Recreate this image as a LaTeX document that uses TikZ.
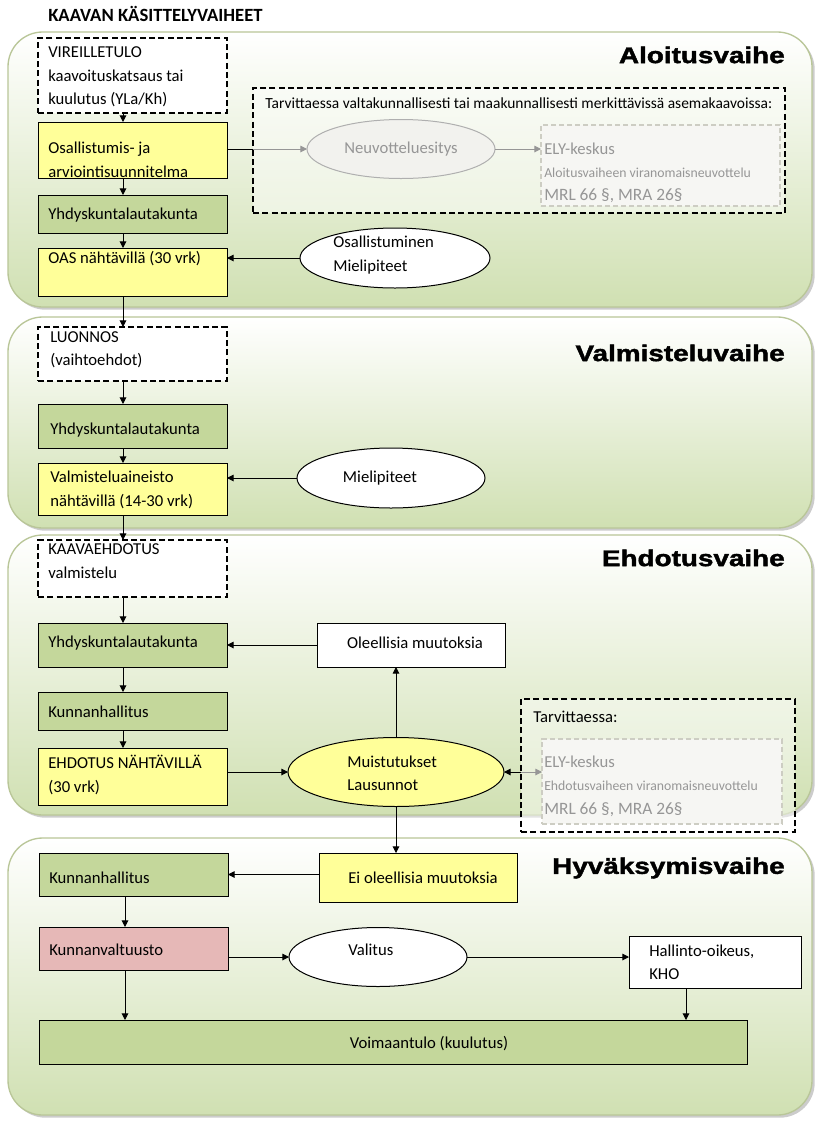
\documentclass[tikz,border=0pt]{standalone}
\usepackage{fontspec}
\usepackage{graphicx}
\setmainfont{Carlito}
\newfontfamily\headfont{Liberation Sans}[UprightFont=* Bold, FakeBold=1.6]
\usetikzlibrary{arrows.meta,shadows,shapes.geometric,calc}

\definecolor{yel}{RGB}{255,255,153}
\definecolor{grn}{RGB}{196,215,155}
\definecolor{pnk}{RGB}{230,184,183}
\definecolor{pbot}{RGB}{208,224,178}
\definecolor{pline}{RGB}{185,198,152}
\definecolor{gtxt}{RGB}{150,150,150}
\definecolor{gline}{RGB}{150,150,150}
\definecolor{elyb}{RGB}{205,205,195}
\definecolor{elyf}{RGB}{246,246,243}
\definecolor{neuvf}{RGB}{242,242,238}
\definecolor{neuvb}{RGB}{175,175,175}

\newcommand\bx[6]{\node[#1, anchor=north west, inner sep=0pt, outer sep=0pt, minimum width={(#5-#3)*0.75pt}, minimum height={(#6-#4)*0.75pt}] (#2) at (#3,#4) {};}
\newcommand\el[6]{\node[#1, ellipse, inner sep=0pt, outer sep=0pt, minimum width={#5*1.5pt}, minimum height={#6*1.5pt}] (#2) at (#3,#4) {};}

\tikzset{
  panel/.style={draw=pline, line width=1pt, rounded corners=26pt, top color=white, bottom color=pbot,
    drop shadow={shadow xshift=2pt, shadow yshift=-2pt, opacity=0.4}},
  solidbox/.style={draw=black, line width=0.75pt},
  dbox/.style={draw=black, line width=1.5pt, dash pattern=on 4.5pt off 2.5pt},
  elybox/.style={draw=elyb, line width=1.1pt, dash pattern=on 4pt off 2pt, fill=elyf},
  txt/.style={inner sep=0pt, font=\fontsize{12.5}{17.6}\selectfont, align=left},
  gtx/.style={txt, text=gtxt},
  mrl/.style={inner sep=0pt, text=gtxt, font=\fontsize{13}{15}\selectfont},
  smalltx/.style={inner sep=0pt, text=gtxt, font=\fontsize{10.3}{12}\selectfont},
  head/.style={inner sep=0pt, anchor=east, font=\headfont\fontsize{17}{20}\selectfont},
  arr/.style={-{Triangle[length=5pt,width=5pt]}, line width=0.75pt},
  garrow/.style={-{Triangle[length=5pt,width=5pt]}, line width=0.75pt, draw=gline, color=gline},
}

\begin{document}
\begin{tikzpicture}[x=0.75pt, y=-0.75pt]
\useasboundingbox (0,0) rectangle (820,1122);
\fill[white] (0,0) rectangle (820,1122);

% panels
\bx{panel}{p1}{8}{32}{812}{307}
\bx{panel}{p2}{8}{317}{812}{528}
\bx{panel}{p3}{8}{535}{812}{815}
\bx{panel}{p4}{8}{838}{812}{1115}

\node[inner sep=0pt, anchor=west, font=\bfseries\fontsize{14}{16}\selectfont] (title) at (48,14) {KAAVAN KÄSITTELYVAIHEET};

% column coordinates
\coordinate (c1) at (123,0);
\coordinate (c4) at (125,0);
\coordinate (c5) at (686,0);

% ---------- Aloitusvaihe
\node[head] (h1) at (785,55) {\scalebox{1.23}[1]{Aloitusvaihe}};
\bx{dbox, fill=white}{vire}{38}{38}{227}{113}
\bx{solidbox, fill=yel}{osal}{38}{122}{227}{178}
\bx{solidbox, fill=grn}{yk1}{38}{195}{227}{233}
\bx{solidbox, fill=yel}{oas}{38}{248}{227}{296}
\bx{dbox, fill=white, fill opacity=0.45}{tarv1}{253}{88}{785}{213}
\bx{elybox}{ely1}{541}{125}{780}{206}
\el{draw=neuvb, fill=neuvf, line width=0.75pt}{neuv}{401}{149}{94}{29.5}
\el{draw=black, fill=white, line width=0.75pt}{osmi}{395}{258}{95}{30}

\node[txt, anchor=west] (vire-t) at (48,77) {VIREILLETULO\\kaavoituskatsaus tai\\kuulutus (YLa/Kh)};
\node[txt, anchor=west] (osal-t) at (48,160) {Osallistumis- ja\\arviointisuunnitelma};
\node[txt, anchor=west] (yk1-t) at (48,215) {Yhdyskuntalautakunta};
\node[txt, anchor=west] (oas-t) at (48,259) {OAS nähtävillä (30 vrk)};
\node[inner sep=0pt, anchor=west, font=\fontsize{11.6}{13}\selectfont] (tarv1-t) at (265,103) {Tarvittaessa valtakunnallisesti tai maakunnallisesti merkittävissä asemakaavoissa:};
\node[gtx] (neuv-t) at (401,149) {Neuvotteluesitys};
\node[gtx, anchor=west] (ely1-a) at (544,149) {ELY-keskus};
\node[smalltx, anchor=west] (ely1-b) at (544,173) {Aloitusvaiheen viranomaisneuvottelu};
\node[mrl, anchor=west] (ely1-c) at (544,196) {MRL 66 §, MRA 26§};
\node[txt, anchor=west] (osmi-t) at (333,255) {Osallistuminen\\Mielipiteet};

\draw[arr] (vire.south -| c1) -- (osal.north -| c1);
\draw[arr] (osal.south -| c1) -- (yk1.north -| c1);
\draw[arr] (yk1.south -| c1) -- (oas.north -| c1);
\draw[line width=0.75pt] (osal.east |- neuv.west) -- (tarv1.west |- neuv.west);
\draw[garrow] (tarv1.west |- neuv.west) -- (neuv.west);
\draw[garrow] (neuv.east) -- (neuv.east -| ely1.west);
\draw[arr] (osmi.west) -- (osmi.west -| oas.east);

% ---------- Valmisteluvaihe
\node[head] (h2) at (785,353) {\scalebox{1.23}[1]{Valmisteluvaihe}};
\bx{dbox, fill=white}{luon}{38}{327}{227}{381}
\bx{solidbox, fill=grn}{yk2}{38}{404}{227}{448}
\bx{solidbox, fill=yel}{valm}{38}{463}{227}{515}
\el{draw=black, fill=white, line width=0.75pt}{miel}{391}{478}{94}{30}

\node[txt, anchor=west] (luon-t) at (50,350) {LUONNOS\\(vaihtoehdot)};
\node[txt, anchor=west] (yk2-t) at (50,430) {Yhdyskuntalautakunta};
\node[txt, anchor=west] (valm-t) at (50,490) {Valmisteluaineisto\\nähtävillä (14-30 vrk)};
\node[txt] (miel-t) at (380,478) {Mielipiteet};

\draw[arr] (oas.south -| c1) -- (luon.north -| c1);
\draw[arr] (luon.south -| c1) -- (yk2.north -| c1);
\draw[arr] (yk2.south -| c1) -- (valm.north -| c1);
\draw[arr] (miel.west) -- (miel.west -| valm.east);

% ---------- Ehdotusvaihe
\node[head] (h3) at (785,558) {\scalebox{1.23}[1]{Ehdotusvaihe}};
\bx{dbox, fill=white}{kaava}{38}{540}{227}{597}
\bx{solidbox, fill=grn}{yk3}{38}{623}{227}{667}
\bx{solidbox, fill=grn}{kh3}{38}{692}{227}{730}
\bx{solidbox, fill=yel}{ehd}{38}{748}{227}{805}
\bx{solidbox, fill=white}{oleel}{317}{623}{505}{667}
\el{draw=black, fill=yel, line width=0.75pt}{muist}{396}{772}{108}{34.5}
\bx{dbox, fill=white, fill opacity=0.45}{tarv2}{521}{699}{795}{832}
\bx{elybox}{ely2}{542}{739}{782}{824}

\node[txt, anchor=west] (kaava-t) at (48,561) {KAAVAEHDOTUS\\valmistelu};
\node[txt, anchor=west] (yk3-t) at (48,643) {Yhdyskuntalautakunta};
\node[txt, anchor=west] (kh3-t) at (48,712) {Kunnanhallitus};
\node[txt, anchor=west] (ehd-t) at (48,775) {EHDOTUS NÄHTÄVILLÄ\\(30 vrk)};
\node[txt] (oleel-t) at (415,643) {Oleellisia muutoksia};
\node[txt, anchor=west] (muist-t) at (347,773) {Muistutukset\\Lausunnot};
\node[txt, anchor=west] (tarv2-t) at (533,717) {Tarvittaessa:};
\node[gtx, anchor=west] (ely2-a) at (544,762) {ELY-keskus};
\node[smalltx, anchor=west] (ely2-b) at (544,786) {Ehdotusvaiheen viranomaisneuvottelu};
\node[mrl, anchor=west] (ely2-c) at (544,810) {MRL 66 §, MRA 26§};

\draw[arr] (valm.south -| c1) -- (kaava.north -| c1);
\draw[arr] (kaava.south -| c1) -- (yk3.north -| c1);
\draw[arr] (yk3.south -| c1) -- (kh3.north -| c1);
\draw[arr] (kh3.south -| c1) -- (ehd.north -| c1);
\draw[arr] (ehd.east |- muist.west) -- (muist.west);
\draw[arr] (muist.north) -- (muist.north |- oleel.south);
\draw[arr] (oleel.west) -- (oleel.west -| yk3.east);
\draw[arr] (tarv2.west |- muist.east) -- (muist.east);
\draw[garrow] (tarv2.west |- muist.east) -- (ely2.west |- muist.east);

% ---------- Hyvaksymisvaihe
\node[head] (h4) at (785,868) {\scalebox{1.23}[1]{Hyväksymisvaihe}};
\bx{solidbox, fill=grn}{kh4}{39}{853}{228}{896}
\bx{solidbox, fill=yel}{ei}{319}{853}{517}{902}
\bx{solidbox, fill=pnk}{kv}{39}{927}{228}{970}
\el{draw=black, fill=white, line width=0.75pt}{val}{378}{957}{89}{29.5}
\bx{solidbox, fill=white}{ho}{629}{936}{801}{988}
\bx{solidbox, fill=grn}{voim}{39}{1020}{747}{1064}

\node[txt, anchor=west] (kh4-t) at (49,878) {Kunnanhallitus};
\node[txt] (ei-t) at (423,878) {Ei oleellisia muutoksia};
\node[txt, anchor=west] (kv-t) at (49,950) {Kunnanvaltuusto};
\node[txt, anchor=west] (val-t) at (348,950) {Valitus};
\node[txt, anchor=west] (ho-t) at (649,962) {Hallinto-oikeus,\\KHO};
\node[txt] (voim-t) at (429,1044) {Voimaantulo (kuulutus)};

\draw[arr] (muist.south) -- (muist.south |- ei.north);
\draw[arr] (ei.west |- kh4.east) -- (kh4.east);
\draw[arr] (kh4.south -| c4) -- (kv.north -| c4);
\draw[arr] (kv.east |- val.west) -- (val.west);
\draw[arr] (val.east) -- (val.east -| ho.west);
\draw[arr] (kv.south -| c4) -- (voim.north -| c4);
\draw[arr] (ho.south -| c5) -- (voim.north -| c5);
\end{tikzpicture}
\end{document}
